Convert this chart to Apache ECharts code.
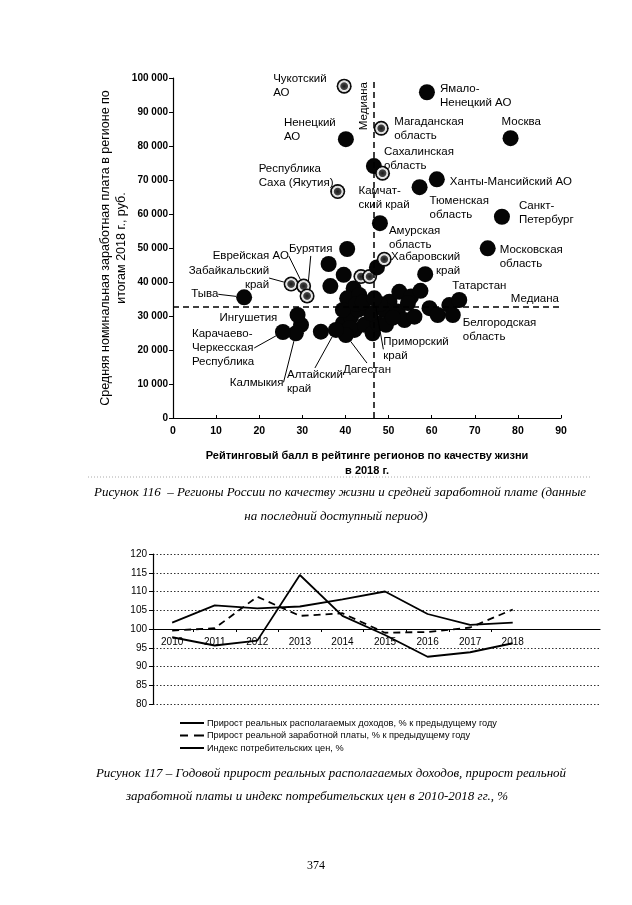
<!DOCTYPE html>
<html><head><meta charset="utf-8">
<script src="https://cdn.jsdelivr.net/npm/echarts@6/dist/echarts.min.js"></script>
<style>html,body{margin:0;padding:0;background:#fff;}#c{width:632px;height:905px;}</style>
</head><body><div id="c"></div>
<script>
// ---------- Figure 116: regions (labelled) ----------
const regionNames = ['Чукотский АО','Ямало-Ненецкий АО','Ненецкий АО','Магаданская область','Москва',
  'Сахалинская область','Камчатский край','Республика Саха (Якутия)','Ханты-Мансийский АО','Тюменская область',
  'Санкт-Петербург','Амурская область','Московская область','Хабаровский край','Татарстан',
  'Белгородская область','Приморский край','Дагестан','Алтайский край','Калмыкия',
  'Карачаево-Черкесская Республика','Ингушетия','Тыва','Забайкальский край','Еврейская АО','Бурятия'];
const regionLabels = ['Чукотский\nАО','Ямало-\nНенецкий АО','Ненецкий\nАО','Магаданская\nобласть','Москва',
  'Сахалинская\nобласть','Камчат-\nский край','Республика\nСаха (Якутия)','Ханты-Мансийский АО','Тюменская\nобласть',
  'Санкт-\nПетербург','Амурская\nобласть','Московская\nобласть','Хабаровский\nкрай','Татарстан',
  'Белгородская\nобласть','Приморский\nкрай','Дагестан','Алтайский\nкрай','Калмыкия',
  'Карачаево-\nЧеркесская\nРеспублика','Ингушетия','Тыва','Забайкальский\nкрай','Еврейская АО','Бурятия'];
const regionRating = [39.7,58.9,40.1,48.3,78.3, 46.6,48.6,38.2,61.2,57.2, 76.3,48.0,73.0,49.0,66.4,
  64.9,46.7,40.1,37.8,28.5, 25.5,28.9,16.5,27.4,30.3,31.1];
const regionWage = [97600,95800,82000,85200,82300, 74100,72000,66600,70200,67900, 59200,57300,49900,46700,34700,
  30300,35200,24400,25900,24900, 25300,30300,35500,39400,38800,35900];
const regionHatched = [1,0,0,1,0, 0,1,1,0,0, 0,0,0,1,0, 0,0,0,0,0, 0,0,0,1,1,1];
// ---------- Figure 116: other regions (unlabelled) ----------
const otherRating = [40.4,36.1,39.6,36.5,41.9,43.6,45.6,47.3,58.5,40.4,43.2,50.2,52.5,55.2,57.4,59.5,61.4,64.1,
  49.0,52.1,53.7,56.0,29.7,34.3,39.4,41.3,42.1,44.4,46.3,47.5,45.9,42.9,39.4,49.4,42.5,51.0,54.5,44.0,48.0,41.0];
const otherWage = [49700,45300,42100,38800,38100,41600,41600,44300,42300,35200,36200,34200,37100,35700,37400,32300,30300,33200,
  31800,31300,28800,29800,27400,25400,27800,29800,25900,27400,24900,27800,30800,31800,31800,27400,33500,29500,33800,34000,33500,26500];
const otherHatched = [0,0,0,0,0,1,1,0,0,0,0,0,0,0,0,0,0,0, 0,0,0,0,0,0,0,0,0,0,0,0,0,0,0,0,0,0,0,0,0,0];
const medianRating = 46.5;
const medianWage = 32800;
// ---------- Figure 117 ----------
const years = [2010,2011,2012,2013,2014,2015,2016,2017,2018];
const incomeGrowth = [97.8,95.6,96.9,114.4,103.5,98.4,92.6,93.8,96.2];
const wageGrowth = [99.6,100.2,108.6,103.5,104.2,99.0,99.2,100.4,105.2];
const cpiIndex = [101.7,106.3,105.5,106.0,107.9,110.0,104.0,101.1,101.7];
const seriesNames = ['Прирост реальных располагаемых доходов, % к предыдущему году',
  'Прирост реальной заработной платы, % к предыдущему году','Индекс потребительских цен, %'];

// label placement: [dx, dy, align, leaderLine] relative to point centre (layout only)
const labelPlace = {
  'Чукотский АО':[-71,-14,'left'],'Ямало-Ненецкий АО':[13,-10,'left'],'Ненецкий АО':[-62,-23,'left'],
  'Магаданская область':[13,-13,'left'],'Москва':[-9,-23,'left'],'Сахалинская область':[10,-21,'left'],
  'Камчатский край':[-24,11,'left'],'Республика Саха (Якутия)':[-79,-30,'left'],'Ханты-Мансийский АО':[13,-4,'left'],
  'Тюменская область':[10,7,'left'],'Санкт-Петербург':[17,-18,'left'],'Амурская область':[9,1,'left'],
  'Московская область':[12,-6,'left'],'Хабаровский край':[76,-9,'right'],'Татарстан':[-7,-21,'left'],
  'Белгородская область':[10,1,'left'],'Приморский край':[9,37,'left',1],'Дагестан':[-3,28,'left',1],
  'Алтайский край':[-49,38,'left',1],'Калмыкия':[-66,42,'left',1],'Карачаево-Черкесская Республика':[-91,-5,'left',1],
  'Ингушетия':[-78,-4,'left'],'Тыва':[-53,-10,'left',1],'Забайкальский край':[-22,-20,'right',1],
  'Еврейская АО':[-91,-37,'left',1],'Бурятия':[-18,-54,'left',1]
};

const SANS = 'Liberation Sans, Arial, sans-serif';
const SERIF = 'Liberation Serif, Times New Roman, serif';
const hatchFill = {type:'radial',x:0.5,y:0.5,r:0.5,colorStops:[
  {offset:0,color:'#1a1a1a'},{offset:0.45,color:'#444'},{offset:0.58,color:'#eee'},
  {offset:0.74,color:'#ccc'},{offset:0.82,color:'#111'},{offset:1,color:'#000'}]};
const solidStyle = {color:'#050505', opacity:1};
const hatchStyle = {color:hatchFill, opacity:1};

const regionData = regionNames.map((n,i)=>{
  const p = labelPlace[n];
  return {
    name:n, value:[regionRating[i], regionWage[i]],
    symbolSize: regionHatched[i]?15:16,
    itemStyle: regionHatched[i]?hatchStyle:solidStyle,
    label:{show:true, formatter:regionLabels[i]},
    labelLine:{show:!!p[3], lineStyle:{color:'#000',width:1}}
  };
});
const otherData = otherRating.map((x,i)=>({value:[x, otherWage[i]],
  symbolSize: otherHatched[i]?15:16,
  itemStyle: otherHatched[i]?hatchStyle:solidStyle}));

function fmtThousands(v){ return String(v).replace(/\B(?=(\d{3})+(?!\d))/g,' '); }

const chart = echarts.init(document.getElementById('c'), null, {renderer:'canvas'});
chart.setOption({
  backgroundColor:'#fff',
  animation:false,
  grid:[
    {left:173, right:71, top:78, height:340},
    {left:153, right:32, top:554, height:150}
  ],
  xAxis:[
    {type:'value', gridIndex:0, min:0, max:90, interval:10,
     axisLine:{lineStyle:{color:'#000',width:1.2}},
     axisTick:{inside:true,length:3,lineStyle:{color:'#000'}},
     axisLabel:{color:'#000',fontWeight:'bold',fontSize:10.5,fontFamily:SANS,margin:8},
     splitLine:{show:false},
     name:'Рейтинговый балл в рейтинге регионов по качеству жизни\nв 2018 г.',
     nameLocation:'middle', nameGap:30, nameMoveOverlap:false,
     nameTextStyle:{color:'#000',fontWeight:'bold',fontSize:11,fontFamily:SANS,lineHeight:15}},
    {type:'value', gridIndex:1, min:2009.55, max:2020.05, offset:-75,
     axisLine:{lineStyle:{color:'#000',width:1.2}},
     axisTick:{show:true,length:3,customValues:[2010.5,2011.5,2012.5,2013.5,2014.5,2015.5,2016.5,2017.5],lineStyle:{color:'#000'}},
     axisLabel:{color:'#000',fontSize:10,fontFamily:SANS,margin:8,customValues:years,formatter:v=>String(Math.round(v))},
     splitLine:{show:false}}
  ],
  yAxis:[
    {type:'value', gridIndex:0, min:0, max:100000, interval:10000,
     axisLine:{show:true,lineStyle:{color:'#000',width:1.2}},
     axisTick:{show:true,length:4,lineStyle:{color:'#000'}},
     axisLabel:{color:'#000',fontWeight:'bold',fontSize:10,fontFamily:SANS,margin:5,formatter:fmtThousands},
     splitLine:{show:false},
     name:'Средняя номинальная заработная плата в регионе по\nитогам 2018 г., руб.',
     nameLocation:'middle', nameGap:43, nameMoveOverlap:false,
     nameTextStyle:{color:'#000',fontSize:12.5,fontFamily:SANS,lineHeight:16}},
    {type:'value', gridIndex:1, min:80, max:120, interval:5,
     axisLine:{show:true,lineStyle:{color:'#000',width:1.2}},
     axisTick:{show:true,length:4,lineStyle:{color:'#000'}},
     axisLabel:{color:'#000',fontSize:10,fontFamily:SANS,margin:6},
     splitLine:{show:true,lineStyle:{color:'#333',type:[1.5,2],width:1}}}
  ],
  legend:{
    data:[
      {name:seriesNames[0], icon:'path://M0 0H24V2H0Z'},
      {name:seriesNames[1], icon:'path://M0 0H8V2H0Z M14 0H24V2H14Z'},
      {name:seriesNames[2], icon:'path://M0 0H24V2H0Z'}
    ],
    orient:'vertical', left:180, top:718, itemWidth:24, itemHeight:2, itemGap:2.5,
    itemStyle:{color:'#000'},
    textStyle:{color:'#000',fontSize:9.2,fontFamily:SANS,lineHeight:10,padding:[0,0,0,-2]}, padding:0
  },
  series:[
    {type:'scatter', name:'other', xAxisIndex:0, yAxisIndex:0, data:otherData, z:2,
     markLine:{silent:true, symbol:'none', animation:false,
       lineStyle:{color:'#000',type:[6,4],width:1.5},
       data:[
         {xAxis:medianRating, label:{show:true,formatter:'Медиана',position:'insideEndTop',color:'#000',fontSize:11.5,fontFamily:SANS,distance:4}},
         {yAxis:medianWage, label:{show:true,formatter:'Медиана',position:'insideEndTop',color:'#000',fontSize:11.5,fontFamily:SANS,distance:2}}
       ]}},
    {type:'scatter', name:'regions', xAxisIndex:0, yAxisIndex:0, data:regionData, z:3,
     label:{show:true,color:'#000',fontSize:11.5,fontFamily:SANS,lineHeight:14},
     labelLine:{show:false,lineStyle:{color:'#000',width:1}},
     labelLayout:function(params){
       const n = regionNames[params.dataIndex];
       const p = labelPlace[n];
       if(!p) return {};
       const cx = params.rect.x + params.rect.width/2, cy = params.rect.y + params.rect.height/2;
       return {x:cx+p[0], y:cy+p[1], align:p[2], verticalAlign:'top'};
     }},
    {type:'line', name:seriesNames[0], xAxisIndex:1, yAxisIndex:1, symbol:'none',
     data:years.map((y,i)=>[y,incomeGrowth[i]]), lineStyle:{color:'#000',width:1.8}, itemStyle:{color:'#000'}},
    {type:'line', name:seriesNames[1], xAxisIndex:1, yAxisIndex:1, symbol:'none',
     data:years.map((y,i)=>[y,wageGrowth[i]]), lineStyle:{color:'#000',width:1.8,type:[7,5]}, itemStyle:{color:'#000'}},
    {type:'line', name:seriesNames[2], xAxisIndex:1, yAxisIndex:1, symbol:'none',
     data:years.map((y,i)=>[y,cpiIndex[i]]), lineStyle:{color:'#000',width:1.8}, itemStyle:{color:'#000'}}
  ],
  graphic:[
    {type:'line', shape:{x1:88,y1:477,x2:592,y2:477}, style:{stroke:'#aaa',lineWidth:1,lineDash:[1,2]}},
    {type:'text', x:340, y:493, style:{text:'Рисунок 116  – Регионы России по качеству жизни и средней заработной плате (данные',
      font:'italic 13px '+SERIF, fill:'#000', align:'center', verticalAlign:'middle'}},
    {type:'text', x:336, y:517, style:{text:'на последний доступный период)',
      font:'italic 13px '+SERIF, fill:'#000', align:'center', verticalAlign:'middle'}},
    {type:'text', x:331, y:774, style:{text:'Рисунок 117 – Годовой прирост реальных располагаемых доходов, прирост реальной',
      font:'italic 13px '+SERIF, fill:'#000', align:'center', verticalAlign:'middle'}},
    {type:'text', x:317, y:797, style:{text:'заработной платы и индекс потребительских цен в 2010-2018 гг., %',
      font:'italic 13px '+SERIF, fill:'#000', align:'center', verticalAlign:'middle'}},
    {type:'text', x:316, y:866, style:{text:'374', font:'12px '+SERIF, fill:'#000', align:'center', verticalAlign:'middle'}}
  ]
});
</script></body></html>
